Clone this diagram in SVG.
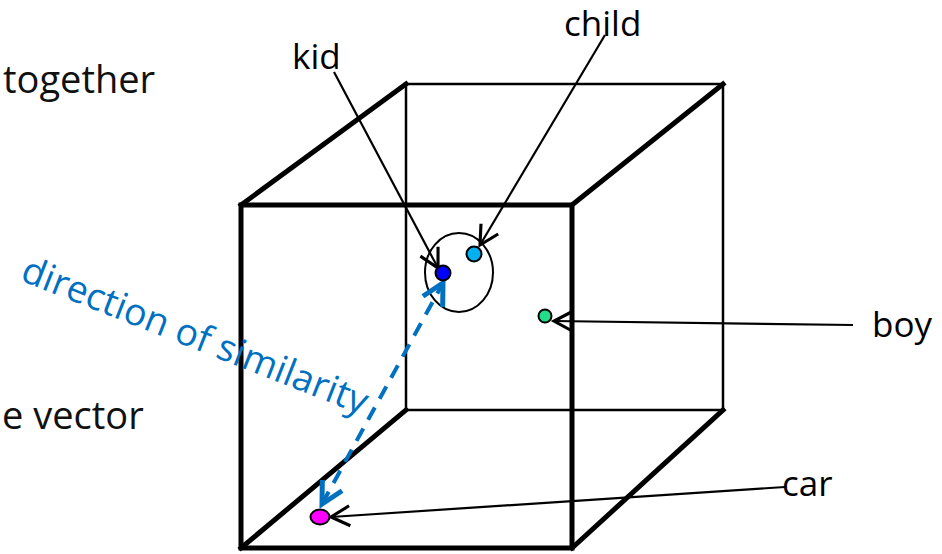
<svg xmlns="http://www.w3.org/2000/svg" width="942" height="554" viewBox="0 0 942 554">
  <style>
    .lbl { font-family: "Open Sans", "Noto Sans", "DejaVu Sans", sans-serif; font-size: 35px; fill: #000; }
    .side { font-family: "Open Sans", "Noto Sans", "DejaVu Sans", sans-serif; font-size: 38px; fill: #111; }
    .blue { font-family: "Open Sans", "Noto Sans", "DejaVu Sans", sans-serif; font-size: 37.5px; fill: #0070C0; }
    .thick { stroke: #000; stroke-width: 5; fill: none; stroke-linejoin: miter; stroke-linecap: square; }
    .thin { stroke: #000; stroke-width: 2.5; fill: none; }
    .conn { stroke: #000; stroke-width: 2.2; fill: none; }
    .sim { stroke: #0070C0; stroke-width: 4; fill: none; stroke-dasharray: 14 10; }
    .dot { stroke: #000; stroke-width: 2; }
  </style>
  <defs>
    <marker id="ah" markerUnits="userSpaceOnUse" markerWidth="30" markerHeight="30" viewBox="-20 -12 24 24" refX="0" refY="0" orient="auto">
      <path d="M -15 -8 L 0 0 L -15 8" fill="none" stroke="#000" stroke-width="2.5"/>
    </marker>
    <marker id="ahb" markerUnits="userSpaceOnUse" markerWidth="30" markerHeight="30" viewBox="-20 -12 24 24" refX="0" refY="0" orient="auto-start-reverse">
      <path d="M -17 -9 L 0 0 L -17 9" fill="none" stroke="#0070C0" stroke-width="4"/>
    </marker>
  </defs>

  <g id="side-text">
    <text class="side" x="3" y="93">together</text>
    <text class="side" x="2" y="429">e vector</text>
  </g>

  <g id="cube">
    <path class="thin" d="M406 84 L723 84 L723 410 L406 410 Z"/>
    <path class="thick" d="M241 205 L572 205 L572 548 L241 548 Z"/>
    <line class="thick" x1="241" y1="205" x2="406" y2="84"/>
    <line class="thick" x1="572" y1="205" x2="723" y2="84"/>
    <line class="thick" x1="241" y1="548" x2="406" y2="410"/>
    <line class="thick" x1="572" y1="548" x2="723" y2="410"/>
  </g>

  <g id="cluster">
    <ellipse cx="459" cy="272.5" rx="34" ry="39.5" fill="none" stroke="#000" stroke-width="2"/>
  </g>

  <g id="connectors">
    <line class="conn" x1="334" y1="72" x2="438" y2="268" marker-end="url(#ah)"/>
    <line class="conn" x1="605" y1="35" x2="480" y2="245" marker-end="url(#ah)"/>
    <line class="conn" x1="853" y1="325" x2="554" y2="321" marker-end="url(#ah)"/>
    <line class="conn" x1="785" y1="487" x2="331" y2="517" marker-end="url(#ah)"/>
    <line class="sim" x1="322" y1="504" x2="443" y2="283" marker-start="url(#ahb)" marker-end="url(#ahb)"/>
  </g>

  <g id="kid">
    <circle class="dot" cx="443" cy="273" r="7.5" fill="#0000FF"/>
    <text class="lbl" x="292" y="69">kid</text>
  </g>
  <g id="child">
    <circle class="dot" cx="474" cy="254" r="7.5" fill="#00B0F0"/>
    <text class="lbl" x="564" y="36">child</text>
  </g>
  <g id="boy">
    <circle class="dot" cx="545" cy="316" r="6.5" fill="#22DD8A"/>
    <text class="lbl" x="872" y="337">boy</text>
  </g>
  <g id="car">
    <ellipse class="dot" cx="320" cy="517" rx="9.5" ry="7.5" fill="#FF00FF"/>
    <text class="lbl" x="782" y="496">car</text>
  </g>

  <g id="similarity-label">
    <text class="blue" x="19" y="280" transform="rotate(21.5 19 280)">direction of similarity</text>
  </g>
</svg>
